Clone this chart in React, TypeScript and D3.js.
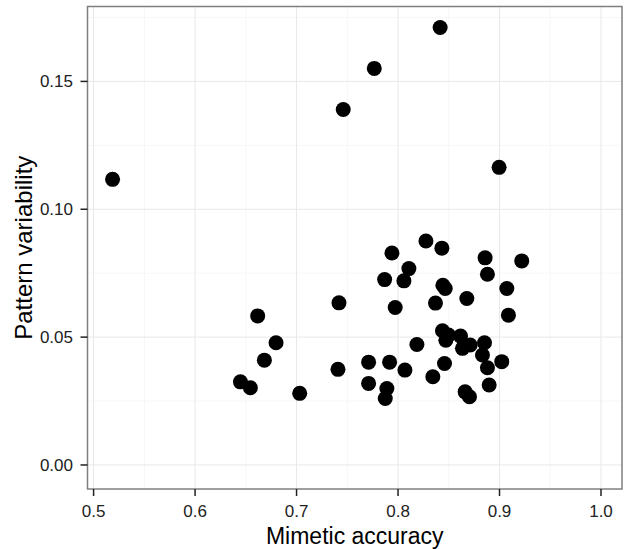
import React from "react";
import * as d3 from "d3";

const accuracy: number[] = [
  0.5187, 0.8415, 0.7766, 0.746, 0.8996,
  0.8275, 0.8432, 0.794, 0.8858, 0.9219, 0.8107, 0.8881, 0.7868, 0.8058, 0.8442, 0.8465, 0.9072,
  0.8678, 0.7418, 0.8369, 0.7972, 0.6617, 0.9088,
  0.8438, 0.8471, 0.8498, 0.8616, 0.8635, 0.8711, 0.8852, 0.8832,
  0.6798, 0.6683, 0.6447, 0.6545, 0.7031, 0.7408,
  0.771, 0.7917, 0.771, 0.789, 0.7874,
  0.8068, 0.8186, 0.8343, 0.8458, 0.9022, 0.8881, 0.8898, 0.8661, 0.8704,
];
const variability: number[] = [
  0.1117, 0.1711, 0.1551, 0.139, 0.1164,
  0.0876, 0.0848, 0.0829, 0.081, 0.0798, 0.0768, 0.0746, 0.0725, 0.072, 0.0703, 0.069, 0.069,
  0.0651, 0.0634, 0.0633, 0.0616, 0.0583, 0.0586,
  0.0525, 0.0488, 0.0508, 0.0504, 0.0456, 0.0469, 0.0478, 0.043,
  0.0478, 0.041, 0.0325, 0.0302, 0.028, 0.0374,
  0.0402, 0.0402, 0.0319, 0.0299, 0.026,
  0.0371, 0.0471, 0.0345, 0.0397, 0.0404, 0.038, 0.0313, 0.0286, 0.0267,
];
const xTicks: number[] = [0.5, 0.6, 0.7, 0.8, 0.9, 1.0];
const xMinor: number[] = [0.55, 0.65, 0.75, 0.85, 0.95];
const yTicks: number[] = [0.0, 0.05, 0.1, 0.15];
const yMinor: number[] = [0.025, 0.075, 0.125, 0.175];

export default function App() {
  const W = 625, H = 549;
  const left = 87.5, right = 622, top = 6.5, bottom = 489;
  const x = d3.scaleLinear().domain([0.494, 1.0207]).range([left, right]);
  const y = d3.scaleLinear().domain([-0.0094, 0.1793]).range([bottom, top]);
  const fmt = d3.format(".1f");
  const fmtY = d3.format(".2f");
  const font = "'Liberation Sans', Arial, Helvetica, sans-serif";
  const pts = accuracy.map((a, i) => ({ a, v: variability[i] }));
  return (
    <svg width={W} height={H} style={{ position: "absolute", left: 0, top: 0, display: "block" }} fontFamily={font}>
      <rect x={0} y={0} width={W} height={H} fill="#fff" />
      <rect x={left} y={top} width={right - left} height={bottom - top} fill="#fff" />
      {xMinor.map((t) => (
        <line key={"xm" + t} x1={x(t)} x2={x(t)} y1={top} y2={bottom} stroke="#f7f7f7" strokeWidth={1} />
      ))}
      {yMinor.map((t) => (
        <line key={"ym" + t} x1={left} x2={right} y1={y(t)} y2={y(t)} stroke="#f7f7f7" strokeWidth={1} />
      ))}
      {xTicks.map((t) => (
        <line key={"xg" + t} x1={x(t)} x2={x(t)} y1={top} y2={bottom} stroke="#e8e8e8" strokeWidth={1} />
      ))}
      {yTicks.map((t) => (
        <line key={"yg" + t} x1={left} x2={right} y1={y(t)} y2={y(t)} stroke="#e8e8e8" strokeWidth={1} />
      ))}
      {pts.map((p, i) => (
        <circle key={i} cx={x(p.a)} cy={y(p.v)} r={7.5} fill="#000" />
      ))}
      <rect x={left} y={top} width={right - left} height={bottom - top} fill="none" stroke="#7f7f7f" strokeWidth={1.5} />
      {xTicks.map((t) => (
        <g key={"xt" + t}>
          <line x1={x(t)} x2={x(t)} y1={bottom} y2={bottom + 7} stroke="#222" strokeWidth={1.5} />
          <text x={x(t)} y={bottom + 28} textAnchor="middle" fontSize={17} fill="#222">{fmt(t)}</text>
        </g>
      ))}
      {yTicks.map((t) => (
        <g key={"yt" + t}>
          <line x1={left - 7} x2={left} y1={y(t)} y2={y(t)} stroke="#222" strokeWidth={1.5} />
          <text x={left - 14.5} y={y(t) + 6} textAnchor="end" fontSize={17} fill="#222">{fmtY(t)}</text>
        </g>
      ))}
      <text x={(left + right) / 2} y={543.5} textAnchor="middle" fontSize={23} fill="#000">Mimetic accuracy</text>
      <text transform={`translate(32, ${(top + bottom) / 2}) rotate(-90)`} textAnchor="middle" fontSize={24} fill="#000">Pattern variability</text>
    </svg>
  );
}
